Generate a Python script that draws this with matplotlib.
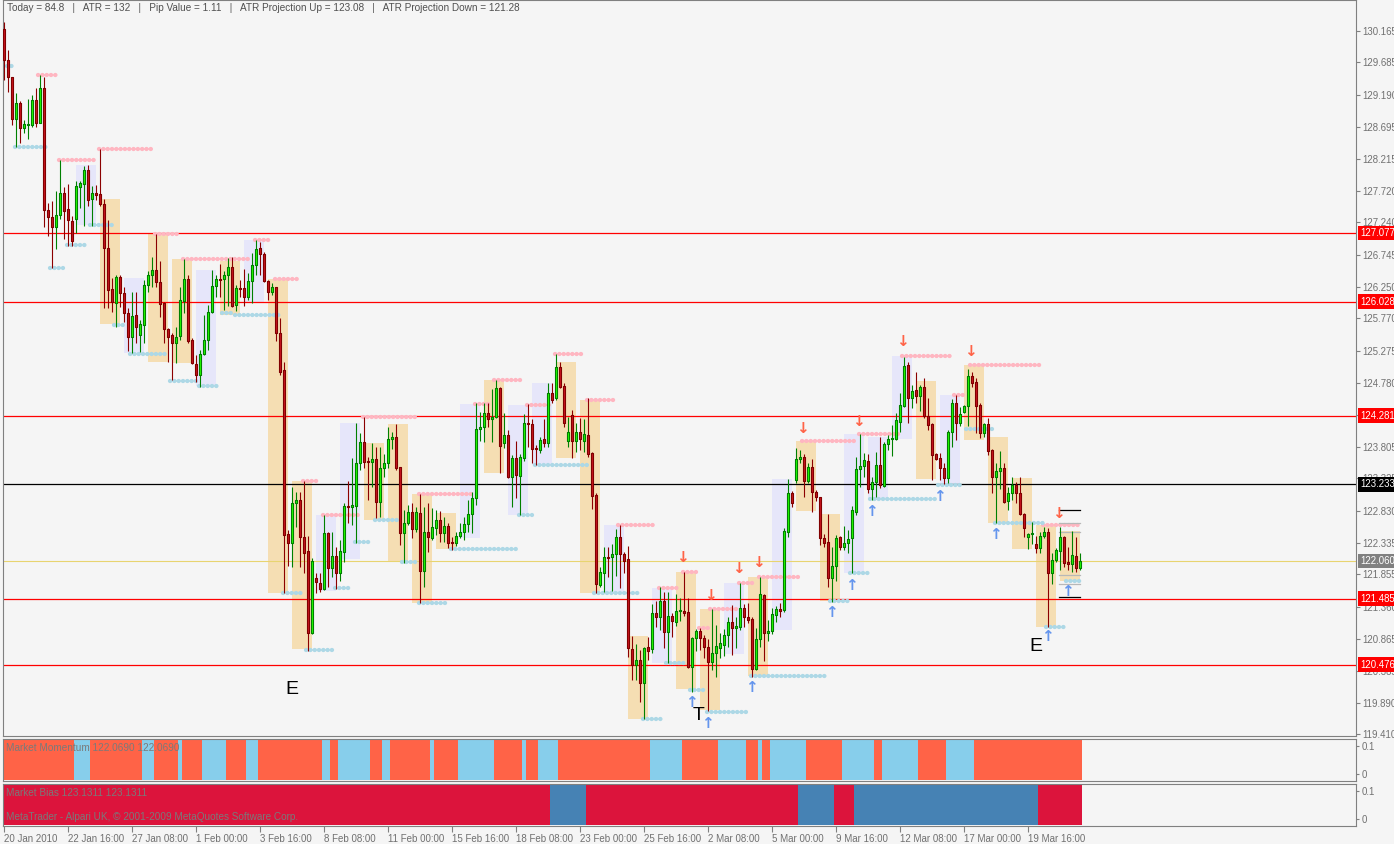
import matplotlib
matplotlib.use("Agg")
import matplotlib.pyplot as plt
from matplotlib.patches import Rectangle
from matplotlib.collections import PatchCollection, LineCollection
import matplotlib.transforms as mtrans

# ---------------- data ----------------
opens = [130.20, 129.72, 129.46, 128.82, 129.06, 128.68, 128.73, 128.73, 129.11, 128.76,
         129.29, 127.43, 127.32, 127.17, 127.35, 127.69, 127.44, 127.26, 127.29, 127.78,
         127.83, 128.04, 127.60, 127.69, 127.67, 127.52, 126.85, 126.22, 126.00, 126.41,
         126.16, 125.85, 125.49, 125.82, 125.51, 125.67, 126.28, 126.43, 126.51, 126.33,
         126.00, 125.61, 125.51, 125.39, 125.50, 126.04, 126.37, 125.44, 125.07, 124.90,
         125.23, 125.44, 125.87, 126.27, 126.37, 126.37, 126.43, 126.55, 125.97, 126.23,
         126.23, 126.10, 126.34, 126.59, 126.85, 126.75, 126.34, 126.17, 126.25, 125.55,
         124.98, 122.47, 122.33, 122.95, 122.99, 122.43, 122.21, 120.96, 121.80, 121.72,
         121.63, 122.49, 121.95, 122.14, 121.88, 122.20, 122.90, 122.89, 122.90, 123.56,
         123.88, 123.59, 123.57, 123.62, 122.96, 123.48, 123.56, 123.93, 123.96, 123.50,
         122.49, 122.64, 122.81, 122.55, 122.79, 121.91, 122.50, 122.41, 122.57, 122.69,
         122.49, 122.60, 122.35, 122.33, 122.44, 122.50, 122.63, 122.78, 123.02, 124.08,
         124.11, 124.32, 124.23, 124.26, 124.71, 123.86, 123.99, 123.35, 123.64, 123.36,
         123.64, 124.17, 124.16, 123.79, 123.76, 123.93, 123.86, 124.63, 124.55, 125.03,
         124.74, 123.90, 124.29, 123.90, 124.03, 123.90, 123.99, 123.71, 123.07, 121.69,
         121.88, 122.12, 122.12, 122.17, 122.43, 122.17, 122.09, 120.72, 120.47, 120.55,
         120.20, 120.75, 120.72, 121.26, 121.20, 121.45, 120.97, 121.22, 121.13, 121.30,
         121.30, 121.28, 120.44, 120.88, 120.99, 120.88, 120.75, 120.52, 120.65, 120.73,
         120.78, 120.93, 121.13, 121.04, 121.05, 121.34, 121.20, 121.17, 120.41, 120.87,
         121.54, 120.96, 120.99, 121.23, 121.33, 121.31, 122.50, 123.10, 123.30, 123.62,
         123.65, 123.28, 123.50, 123.12, 123.04, 122.41, 122.35, 121.80, 121.98, 122.43,
         122.27, 122.33, 122.41, 122.81, 123.47, 123.51, 123.59, 123.16, 123.27, 123.53,
         123.21, 123.85, 123.93, 123.93, 124.19, 124.43, 125.06, 124.55, 124.67, 124.58,
         124.72, 124.28, 124.16, 123.70, 123.64, 123.48, 123.33, 124.03, 124.48, 124.17,
         124.34, 124.43, 124.89, 124.80, 124.45, 124.02, 124.16, 123.76, 123.35, 123.44,
         123.48, 122.98, 123.10, 123.22, 123.10, 122.78, 122.43, 122.47, 122.32, 122.26,
         122.44, 122.50, 121.88, 122.08, 122.21, 122.43, 122.05, 122.02, 122.14, 121.95]

highs = [130.30, 129.87, 129.46, 129.22, 129.09, 128.80, 129.13, 129.19, 129.29, 129.49,
         129.46, 127.53, 127.57, 127.72, 128.19, 127.78, 127.83, 127.34, 127.87, 127.87,
         128.10, 128.12, 127.79, 127.81, 128.36, 127.60, 127.28, 126.39, 126.43, 126.43,
         126.25, 125.93, 126.17, 126.17, 125.75, 126.36, 126.49, 126.71, 127.06, 126.65,
         126.02, 125.62, 125.55, 125.64, 126.25, 126.68, 126.43, 125.47, 125.21, 125.29,
         125.82, 125.97, 126.51, 126.43, 126.60, 126.49, 126.69, 126.71, 126.28, 126.36,
         126.53, 126.46, 126.77, 126.97, 126.94, 126.78, 126.36, 126.31, 126.25, 125.78,
         125.10, 122.53, 123.19, 123.12, 123.12, 123.28, 122.44, 122.11, 121.88, 121.88,
         122.76, 122.50, 122.50, 122.27, 122.38, 122.95, 123.28, 123.64, 124.17, 124.02,
         124.26, 123.65, 123.86, 123.80, 123.80, 123.70, 124.11, 124.03, 124.16, 123.50,
         122.84, 122.92, 122.95, 122.89, 123.08, 122.89, 122.95, 122.87, 122.84, 122.82,
         122.73, 122.64, 122.43, 122.50, 122.64, 122.73, 122.99, 123.12, 124.48, 124.34,
         124.48, 124.48, 124.69, 124.83, 124.72, 124.32, 124.06, 123.68, 123.90, 123.70,
         124.31, 124.46, 124.23, 123.83, 123.96, 124.23, 124.78, 124.78, 125.23, 125.10,
         124.78, 124.26, 124.37, 124.17, 124.25, 124.23, 124.55, 123.73, 123.10, 121.97,
         122.27, 122.27, 122.32, 122.55, 122.61, 122.20, 122.29, 120.91, 120.79, 120.70,
         120.75, 120.90, 121.40, 121.45, 121.66, 121.59, 121.59, 121.27, 121.56, 121.49,
         121.89, 121.49, 120.90, 121.02, 121.04, 120.93, 120.87, 121.33, 121.08, 120.96,
         121.02, 121.20, 121.39, 121.20, 121.72, 121.40, 121.42, 121.20, 121.04, 121.82,
         121.56, 121.16, 121.34, 121.37, 121.42, 122.56, 123.31, 123.13, 123.79, 123.76,
         123.70, 123.56, 123.62, 123.15, 123.04, 122.47, 122.78, 122.27, 122.46, 122.44,
         122.60, 122.53, 122.90, 123.65, 124.00, 123.71, 123.70, 123.35, 123.73, 123.96,
         123.88, 123.99, 124.14, 124.32, 124.63, 125.18, 125.10, 124.75, 124.95, 124.75,
         124.86, 124.55, 124.17, 123.71, 123.71, 123.56, 124.06, 124.54, 124.60, 124.42,
         124.45, 125.00, 124.95, 124.86, 124.48, 124.17, 124.25, 123.77, 123.56, 123.74,
         123.56, 123.19, 123.35, 123.27, 123.35, 122.79, 122.49, 122.66, 122.44, 122.50,
         122.58, 122.56, 122.18, 122.26, 122.58, 122.44, 122.27, 122.52, 122.43, 122.18]

lows = [129.42, 129.23, 128.73, 128.39, 128.45, 128.61, 128.51, 128.70, 128.70, 128.76,
        127.17, 127.03, 126.54, 126.83, 127.29, 126.98, 126.88, 126.88, 127.08, 127.46,
        127.18, 127.49, 127.18, 127.58, 127.49, 125.93, 125.93, 125.87, 125.64, 125.94,
        125.72, 125.27, 125.24, 125.39, 125.26, 125.39, 126.17, 126.25, 126.25, 125.79,
        125.39, 125.10, 124.83, 125.09, 125.44, 125.85, 125.39, 125.07, 124.80, 124.72,
        125.21, 125.29, 125.85, 126.10, 126.10, 125.90, 125.96, 125.94, 125.88, 126.10,
        125.96, 126.05, 126.00, 126.43, 126.43, 126.33, 126.05, 126.13, 125.42, 124.90,
        121.57, 121.98, 121.97, 122.58, 121.97, 121.88, 120.68, 120.94, 121.57, 121.59,
        121.62, 121.66, 121.81, 121.63, 121.76, 122.05, 122.64, 122.61, 122.33, 123.45,
        123.48, 122.99, 123.19, 122.72, 122.73, 123.35, 123.48, 123.77, 123.45, 122.30,
        122.03, 122.61, 122.41, 122.50, 121.42, 121.66, 122.20, 122.38, 122.46, 122.35,
        122.35, 122.26, 122.23, 122.29, 122.41, 122.38, 122.50, 122.49, 122.92, 123.90,
        123.88, 124.11, 123.88, 124.25, 123.41, 123.79, 123.33, 122.89, 123.02, 122.76,
        123.59, 123.80, 123.56, 123.53, 123.71, 123.80, 123.80, 124.48, 124.52, 124.70,
        124.11, 123.80, 123.64, 123.73, 123.76, 123.73, 123.65, 122.86, 121.57, 121.66,
        121.59, 121.81, 121.60, 121.83, 121.65, 121.88, 120.59, 120.24, 120.24, 119.90,
        119.64, 120.55, 120.65, 121.05, 121.01, 120.73, 120.50, 120.90, 121.07, 121.14,
        121.22, 120.42, 120.06, 120.68, 120.70, 120.58, 119.77, 120.39, 120.29, 120.58,
        120.61, 120.75, 120.62, 120.73, 121.01, 121.05, 121.11, 120.29, 120.39, 120.75,
        120.53, 120.84, 120.94, 121.13, 121.20, 121.28, 122.43, 122.89, 123.25, 123.56,
        123.04, 123.25, 122.81, 122.98, 122.30, 122.27, 121.66, 121.43, 121.76, 122.23,
        122.23, 122.18, 121.88, 122.76, 123.19, 123.35, 123.10, 122.99, 123.04, 123.18,
        123.19, 123.76, 123.67, 123.91, 124.03, 124.42, 124.17, 124.40, 124.48, 124.35,
        124.25, 124.06, 123.30, 123.60, 123.30, 123.24, 123.25, 123.80, 123.91, 124.12,
        124.32, 124.12, 124.72, 124.02, 123.94, 123.96, 123.68, 123.10, 122.64, 123.16,
        122.95, 122.84, 122.99, 122.95, 122.76, 122.43, 122.24, 122.32, 122.18, 122.18,
        122.41, 121.05, 121.71, 122.05, 121.92, 121.97, 121.92, 121.89, 121.89, 121.92]

closes = [129.72, 129.46, 128.82, 129.06, 128.68, 128.74, 128.74, 129.11, 128.76, 129.29,
          127.43, 127.32, 127.17, 127.35, 127.69, 127.41, 127.28, 126.95, 127.79, 127.84,
          128.04, 127.58, 127.69, 127.66, 127.52, 126.85, 126.20, 126.02, 126.41, 126.16,
          125.85, 125.49, 125.81, 125.64, 125.69, 126.28, 126.43, 126.51, 126.33, 125.99,
          125.61, 125.49, 125.39, 125.49, 126.05, 126.37, 125.42, 125.09, 124.90, 125.23,
          125.44, 125.87, 126.27, 126.37, 126.36, 126.43, 126.55, 125.96, 126.23, 126.22,
          126.10, 126.34, 126.59, 126.83, 126.75, 126.34, 126.17, 126.25, 125.55, 124.95,
          122.46, 122.33, 122.95, 122.99, 122.43, 122.18, 120.96, 122.06, 121.74, 121.63,
          122.49, 121.95, 122.14, 121.88, 122.21, 122.90, 122.89, 122.92, 123.56, 123.88,
          123.57, 123.57, 123.62, 122.96, 123.48, 123.56, 123.93, 123.96, 123.48, 122.49,
          122.64, 122.81, 122.55, 122.81, 121.91, 122.50, 122.43, 122.58, 122.69, 122.49,
          122.60, 122.33, 122.33, 122.44, 122.50, 122.63, 122.78, 123.02, 124.08, 124.11,
          124.32, 124.23, 124.26, 124.71, 123.82, 123.99, 123.35, 123.64, 123.38, 123.65,
          124.17, 124.16, 123.77, 123.77, 123.91, 123.86, 124.63, 124.52, 125.03, 124.72,
          124.17, 124.03, 123.90, 124.03, 123.93, 124.00, 123.70, 123.05, 121.71, 121.89,
          122.12, 122.11, 122.17, 122.43, 122.17, 122.06, 120.73, 120.47, 120.55, 120.20,
          120.73, 120.68, 121.26, 121.20, 121.45, 120.97, 121.22, 121.14, 121.30, 121.31,
          121.26, 120.44, 120.88, 120.99, 120.88, 120.75, 120.52, 120.65, 120.76, 120.81,
          120.93, 121.13, 121.04, 121.07, 121.34, 121.20, 121.16, 120.41, 120.87, 121.56,
          120.96, 120.99, 121.25, 121.33, 121.30, 122.52, 123.10, 122.95, 123.62, 123.65,
          123.28, 123.50, 123.12, 123.04, 122.41, 122.33, 121.80, 121.98, 122.41, 122.27,
          122.33, 122.40, 122.84, 123.47, 123.51, 123.60, 123.16, 123.27, 123.53, 123.22,
          123.85, 123.93, 123.94, 124.22, 124.45, 125.04, 124.55, 124.66, 124.58, 124.72,
          124.28, 124.14, 123.68, 123.62, 123.48, 123.33, 124.03, 124.48, 124.17, 124.31,
          124.43, 124.89, 124.78, 124.43, 124.02, 124.16, 123.74, 123.35, 123.44, 123.48,
          122.96, 123.10, 123.22, 123.10, 122.78, 122.56, 122.47, 122.49, 122.26, 122.44,
          122.50, 121.88, 122.08, 122.23, 122.43, 122.03, 122.02, 122.15, 121.95, 122.06]

time_label_bars = [0, 16, 32, 48, 64, 80, 96, 112, 128, 144, 160, 176, 192, 208, 224, 240, 256]
time_labels = ["20 Jan 2010", "22 Jan 16:00", "27 Jan 08:00", "1 Feb 00:00", "3 Feb 16:00",
               "8 Feb 08:00", "11 Feb 00:00", "15 Feb 16:00", "18 Feb 08:00", "23 Feb 00:00",
               "25 Feb 16:00", "2 Mar 08:00", "5 Mar 00:00", "9 Mar 16:00", "12 Mar 08:00",
               "17 Mar 00:00", "19 Mar 16:00"]

price_ticks = [130.165, 129.685, 129.190, 128.695, 128.215, 127.720, 127.240, 126.745,
               126.250, 125.770, 125.275, 124.780, 124.290, 123.805, 123.325, 122.830,
               122.335, 121.855, 121.360, 120.865, 120.385, 119.890, 119.410]

# run lengths, alternating; momentum starts with "down" (tomato), bias with "down" (crimson)
momentum_runs = [18, 4, 13, 3, 6, 1, 5, 6, 5, 3, 16, 2, 2, 8, 3, 2, 10, 1, 6, 9, 7, 1, 3, 5,
                 23, 8, 9, 7, 3, 1, 2, 9, 9, 8, 2, 9, 7, 7, 27]
bias_runs = [137, 9, 53, 9, 5, 46, 11]

res_start = [8.25, 13.5, 23.5, 37.5, 44.5, 62.5, 67.5, 74.5, 79.5, 89.5, 103.5, 117.5, 122.25,
             130.5, 137.5, 145.5, 153.25, 163.5, 169.5, 173.5, 176.25, 183.5, 188.5, 199.25,
             213.5, 224.25, 237.25, 241.25, 259.5]
res_end = [13.5, 23.5, 37.5, 44.25, 62, 67.5, 74.5, 79.5, 89.5, 103.5, 117.5, 122.25, 130.5,
           137.5, 145.5, 153.5, 163.5, 169.5, 173.5, 176.5, 183.5, 188.5, 199.5, 213.5,
           224.25, 237.5, 240.5, 259.5, 269.5]
res_price = [129.49, 128.19, 128.36, 127.06, 126.68, 126.97, 126.37, 123.28, 122.76, 124.26,
             123.08, 124.46, 124.83, 124.45, 125.23, 124.52, 122.61, 121.65, 121.89, 121.04,
             121.33, 121.72, 121.82, 123.90, 124.00, 125.20, 124.60, 125.06, 122.61]

sup_start = [0.5, 2.5, 11.25, 15.5, 21.25, 27.25, 31.25, 41.25, 48.5, 54.25, 57.5, 69.5, 75.25,
             82.5, 87.5, 92.5, 99.25, 103.5, 111.5, 128.5, 132.5, 147.25, 159.5, 165.25,
             171.25, 175.5, 186.5, 206.25, 211.25, 216.25, 233.25, 240.25, 247.5, 260.25, 265.25]
sup_end = [2.5, 11.25, 15.25, 21.25, 27.5, 30.75, 41.25, 48.5, 54.25, 57.5, 69.5, 75.25, 82.5,
           87.5, 92.5, 98.75, 103.5, 111.5, 128.5, 132.5, 146.75, 159.5, 165.25, 171, 175.5,
           186.5, 206.25, 211.5, 216.5, 233.5, 240.25, 247.5, 260.5, 265.5, 269.5]
sup_price = [129.63, 128.39, 126.54, 126.89, 127.20, 125.67, 125.23, 124.81, 124.74, 125.85,
             125.82, 121.57, 120.70, 121.65, 122.35, 122.69, 122.05, 121.42, 122.24, 122.76,
             123.53, 121.57, 119.64, 120.50, 120.09, 119.75, 120.30, 121.45, 121.88, 123.01,
             123.22, 124.08, 122.64, 121.05, 121.75]

box_kind = ["L", "W", "L", "W", "W", "L", "W", "L", "W", "W", "L", "L", "W", "W", "W", "W",
            "L", "W", "L", "L", "W", "W", "L", "W", "L", "W", "W", "L", "W", "L", "W", "W",
            "L", "L", "L", "W", "L", "W", "W", "W", "W", "W"]
box_start = [18, 24, 30, 36, 42, 48, 54, 60, 66, 72, 78, 84, 90, 96, 102, 108, 114, 120, 126,
             132, 138, 144, 150, 156, 162, 168, 174, 180, 186, 192, 198, 204, 210, 216, 222,
             228, 234, 240, 246, 252, 258, 264]
box_end = [s + 5 for s in box_start]
box_top = [128.12, 127.60, 126.39, 127.08, 126.68, 126.51, 126.65, 126.97, 126.37, 123.28,
           122.76, 124.17, 123.86, 124.16, 123.08, 122.79, 124.46, 124.83, 124.45, 124.78,
           125.10, 124.52, 122.61, 120.91, 121.65, 121.89, 121.33, 121.72, 121.82, 123.31,
           123.90, 122.78, 124.00, 123.96, 125.20, 124.81, 124.60, 125.06, 123.96, 123.33,
           122.61, 122.52]
box_bottom = [127.20, 125.68, 125.24, 125.10, 125.09, 124.74, 125.82, 126.01, 121.57, 120.71,
              121.60, 122.09, 122.69, 122.05, 121.42, 122.24, 122.41, 123.41, 122.76, 123.53,
              123.64, 121.57, 121.57, 119.64, 120.50, 120.10, 119.78, 120.64, 120.30, 121.00,
              122.82, 121.45, 121.88, 123.02, 123.93, 123.31, 123.24, 123.91, 122.64, 122.24,
              121.05, 121.75]

down_arrow_bar = [169.75, 176.75, 183.75, 188.75, 199.75, 213.75, 224.75, 241.75, 263.75]
down_arrow_price = [122.11, 121.54, 121.95, 122.03, 124.09, 124.20, 125.41, 125.27, 122.79]
up_arrow_bar = [172, 176, 187, 207, 212, 217, 234, 248, 261, 266]
up_arrow_price = [119.89, 119.57, 120.12, 121.27, 121.68, 122.82, 123.04, 122.46, 120.90, 121.59]

mark_text = ["E", "T", "E"]
mark_bar = [72, 173.75, 258]
mark_price = [120.09, 119.69, 120.75]

red_levels = [127.077, 126.028, 124.281, 121.485, 120.476]
black_level = 123.233
current_price = 122.060
proj_black = [122.84, 121.51]
proj_gray = [122.64, 122.50, 121.85, 121.71]
proj_from, proj_to = 263.75, 269.2

header = ("Today = 84.8   |   ATR = 132   |   Pip Value = 1.11   |   "
          "ATR Projection Up = 123.08   |   ATR Projection Down = 121.28")

# ---------------- styling ----------------
BG = "#F5F5F5"
GRID_GRAY = "#808080"
TXT = "#707070"
FONT = "Liberation Sans"
plt.rcParams["font.family"] = [FONT, "DejaVu Sans"]
FS = 6.9

W, H = 1394.0, 844.0
fig = plt.figure(figsize=(13.94, 8.44), dpi=100, facecolor=BG)


def add_ax(x0, y0, x1, y1):
    a = fig.add_axes([x0 / W, 1 - y1 / H, (x1 - x0) / W, (y1 - y0) / H])
    a.set_facecolor(BG)
    for s in a.spines.values():
        s.set_color(GRID_GRAY)
        s.set_linewidth(0.8)
    return a


XL = (-0.125, 338.125)
ax = add_ax(3, 0, 1356, 736)
ax.set_xlim(*XL)
ax.set_ylim(119.384, 130.639)
ax.set_xticks([])

# boxes
for k, s, e, t, b in zip(box_kind, box_start, box_end, box_top, box_bottom):
    ax.add_patch(Rectangle((s, b), e - s, t - b, facecolor="#F5DEB3" if k == "W" else "#E6E6FA",
                           edgecolor="none", zorder=1))

# levels
for lv in red_levels:
    ax.axhline(lv, color="#FF0000", lw=0.9, zorder=1.5)
ax.axhline(black_level, color="black", lw=0.9, zorder=1.5)
ax.axhline(current_price, color="#E8D470", lw=0.8, zorder=1.5)

# dotted support / resistance
DOT = dict(lw=3.1, linestyle=(0, (0.05, 0.95)), dash_capstyle="round", zorder=2)
for s, e, p in zip(res_start, res_end, res_price):
    ax.plot([s + 0.3, e - 0.3], [p, p], color="#FFB6C1", **DOT)
for s, e, p in zip(sup_start, sup_end, sup_price):
    ax.plot([s + 0.3, e - 0.3], [p, p], color="#ADD8E6", **DOT)

# candles
wicks, wick_cols, bodies, face_cols, edge_cols = [], [], [], [], []
for i, (o, h, l, c) in enumerate(zip(opens, highs, lows, closes)):
    up = c >= o
    hi, lo = max(h, o, c), min(l, o, c)
    wicks.append([(i, lo), (i, hi)])
    wick_cols.append("#008000" if up else "#8B0000")
    bodies.append(Rectangle((i - 0.25, min(o, c)), 0.5, max(abs(c - o), 0.004)))
    face_cols.append("#22FF00" if up else "#C8141E")
    edge_cols.append("#008000" if up else "#800000")
ax.add_collection(LineCollection(wicks, colors=wick_cols, linewidths=0.8, zorder=3))
ax.add_collection(PatchCollection(bodies, facecolors=face_cols, edgecolors=edge_cols,
                                  linewidths=0.8, zorder=4))

# arrows
for b, p in zip(down_arrow_bar, down_arrow_price):
    ax.text(b, p, "\u2193", color="#FF6347", fontsize=11, fontweight="bold", ha="center",
            va="center", family="DejaVu Sans", zorder=5)
for b, p in zip(up_arrow_bar, up_arrow_price):
    ax.text(b, p, "\u2191", color="#6495ED", fontsize=11, fontweight="bold", ha="center",
            va="center", family="DejaVu Sans", zorder=5)

for t, b, p in zip(mark_text, mark_bar, mark_price):
    ax.text(b, p, t, color="black", fontsize=14, ha="center", va="center", zorder=6)

for p in proj_gray:
    ax.plot([proj_from, proj_to], [p, p], color="#B8B8B8", lw=0.9, zorder=2.5)
for p in proj_black:
    ax.plot([proj_from, proj_to], [p, p], color="black", lw=0.9, zorder=2.5)

# right price axis
ax.yaxis.tick_right()
ax.set_yticks(price_ticks)
ax.set_yticklabels([f"{v:.3f}" for v in price_ticks])
ax.tick_params(axis="y", direction="out", length=3, width=0.8, colors=GRID_GRAY,
               labelcolor=TXT, labelsize=FS, pad=1.2)

lab_trans = mtrans.blended_transform_factory(ax.transAxes, ax.transData) + \
    mtrans.ScaledTranslation(4.0 / 100, 0, fig.dpi_scale_trans)
for lv, fc in [(v, "#FF0000") for v in red_levels] + [(black_level, "black"),
                                                       (current_price, "#808080")]:
    ax.text(1.0, lv, f"{lv:.3f}", transform=lab_trans, ha="left", va="center", fontsize=FS,
            color="white", bbox=dict(boxstyle="square,pad=0.25", fc=fc, ec="none"),
            zorder=20, clip_on=False)

fig.text(7 / W, 1 - 8 / H, header, fontsize=FS + 0.3, color="#505050", va="center", ha="left")

# ---------------- indicator panels ----------------
def run_colors(runs, c_a, c_b):
    cols = []
    for j, n in enumerate(runs):
        cols += [c_a if j % 2 == 0 else c_b] * n
    return cols


mom_cols = run_colors(momentum_runs, "#FF6347", "#87CEEB")
bias_cols = run_colors(bias_runs, "#DC143C", "#4682B4")

for (y0, y1), cols, label in [((739, 781), mom_cols, "Market Momentum 122.0690 122.0690"),
                              ((784, 826), bias_cols, "Market Bias 123.1311 123.1311")]:
    p = add_ax(3, y0, 1356, y1)
    p.set_xlim(*XL)
    p.set_ylim(-0.025, 0.125)
    p.bar(range(len(cols)), [0.143] * len(cols), bottom=-0.0215, width=1.0, color=cols,
          linewidth=0, zorder=1)
    p.yaxis.tick_right()
    p.set_yticks([0, 0.1])
    p.set_yticklabels(["0", "0.1"])
    p.tick_params(axis="y", direction="out", length=2, width=0.8, colors=GRID_GRAY,
                  labelcolor=TXT, labelsize=FS, pad=2)
    p.text(0.002, 0.78, label, transform=p.transAxes, fontsize=FS + 0.3, color="#7A7A7A",
           va="center", ha="left", zorder=5)
    if y0 == 784:
        p.text(0.002, 0.22, "MetaTrader - Alpari UK, \u00a9 2001-2009 MetaQuotes Software Corp.",
               transform=p.transAxes, fontsize=FS + 0.3, color="#7A7A7A", va="center",
               ha="left", zorder=5)
        p.set_xticks(time_label_bars)
        p.set_xticklabels(time_labels, ha="left")
        p.tick_params(axis="x", direction="out", length=4, width=0.8, colors=GRID_GRAY,
                      labelcolor=TXT, labelsize=FS + 0.1, pad=1.5)
    else:
        p.set_xticks([])

fig.savefig("out.png", dpi=100, facecolor=BG)
